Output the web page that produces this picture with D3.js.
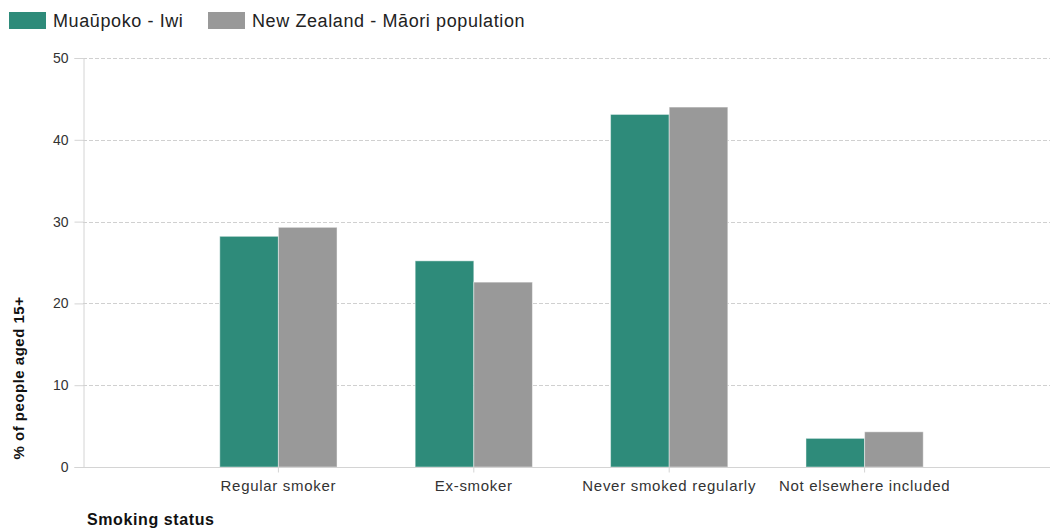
<!DOCTYPE html>
<html>
<head>
<meta charset="utf-8">
<script src="https://cdn.jsdelivr.net/npm/d3@7"></script>
<style>
  html, body { margin: 0; padding: 0; background: #fff; }
  svg { display: block; font-family: "Liberation Sans", Arial, sans-serif; }
</style>
</head>
<body>
<svg id="chart" width="1050" height="529"></svg>
<script>
// Smoking status, % of people aged 15+
const categories = ["Regular smoker", "Ex-smoker", "Never smoked regularly", "Not elsewhere included"];
const seriesNames = ["Muaūpoko - Iwi", "New Zealand - Māori population"];
const iwiValues = [28.2, 25.2, 43.1, 3.5];
const maoriValues = [29.3, 22.6, 44.0, 4.3];
const yTicks = [0, 10, 20, 30, 40, 50];
const colors = ["#2e8b7a", "#999999"];

const seriesValues = [iwiValues, maoriValues];

const svg = d3.select("#chart");
const W = 1050;
const plot = { left: 83, right: 1060, top: 58, bottom: 467 };

const x = d3.scaleBand()
  .domain(categories)
  .range([plot.left, plot.right])
  .paddingInner(0)
  .paddingOuter(0.5);

const xs = d3.scaleBand()
  .domain(seriesNames)
  .range([x.bandwidth() * 0.2, x.bandwidth() * 0.8]);

const y = d3.scaleLinear().domain([0, 50]).range([plot.bottom, plot.top]);

// horizontal grid
svg.append("g")
  .selectAll("line")
  .data(yTicks.filter(d => d > 0))
  .join("line")
  .attr("x1", plot.left).attr("x2", W)
  .attr("y1", d => Math.round(y(d)) + 0.5).attr("y2", d => Math.round(y(d)) + 0.5)
  .attr("stroke", "#d0d0d0")
  .attr("stroke-dasharray", "4,2");

// y axis
const yAxis = svg.append("g")
  .attr("transform", `translate(${plot.left + 0.5},0)`)
  .call(d3.axisLeft(y).tickValues(yTicks).tickSize(9).tickPadding(6).tickFormat(d3.format("d")));
yAxis.select(".domain").attr("stroke", "#d4d4d4");
yAxis.selectAll(".tick line").attr("stroke", "#d4d4d4");
yAxis.selectAll(".tick text")
  .attr("fill", "#333")
  .style("font-size", "14px")
  .style("font-family", "\"Liberation Sans\", Arial, sans-serif");

// bars
const groups = svg.append("g")
  .selectAll("g")
  .data(categories)
  .join("g")
  .attr("transform", d => `translate(${x(d)},0)`);

groups.selectAll("rect")
  .data((c, i) => seriesNames.map((s, k) => ({ s, k, v: seriesValues[k][i] })))
  .join("rect")
  .attr("x", d => xs(d.s))
  .attr("width", xs.bandwidth())
  .attr("y", d => y(d.v))
  .attr("height", d => y(0) - y(d.v))
  .attr("fill", d => colors[d.k])
  .attr("stroke", "#ffffff")
  .attr("stroke-opacity", 0.45)
  .attr("stroke-width", 1);

// x axis
const xAxis = svg.append("g")
  .attr("transform", `translate(0,${plot.bottom + 0.5})`)
  .call(d3.axisBottom(x).tickSize(5).tickPadding(8).tickSizeOuter(0));
xAxis.select(".domain").attr("stroke", "#d4d4d4").attr("d", `M${plot.left},0H${W}`);
xAxis.selectAll(".tick line").attr("stroke", "#d4d4d4");
xAxis.selectAll(".tick text")
  .attr("fill", "#333")
  .style("font-size", "15px")
  .style("letter-spacing", "0.7px")
  .style("font-family", "\"Liberation Sans\", Arial, sans-serif");

// axis titles
svg.append("text")
  .attr("transform", "translate(24,378) rotate(-90)")
  .attr("text-anchor", "middle")
  .style("font-size", "15px")
  .style("font-weight", "bold")
  .style("letter-spacing", "0.5px")
  .attr("fill", "#111")
  .text("% of people aged 15+");

svg.append("text")
  .attr("x", 87).attr("y", 525)
  .style("font-size", "16px")
  .style("font-weight", "bold")
  .style("letter-spacing", "0.6px")
  .attr("fill", "#111")
  .text("Smoking status");

// legend
const legendX = [9, 208];
const legend = svg.append("g")
  .selectAll("g")
  .data(seriesNames)
  .join("g")
  .attr("transform", (d, i) => `translate(${legendX[i]},12)`);
legend.append("rect")
  .attr("width", 37).attr("height", 17)
  .attr("fill", (d, i) => colors[i]);
legend.append("text")
  .attr("x", 44).attr("y", 15)
  .style("font-size", "18px")
  .style("letter-spacing", "0.6px")
  .attr("fill", "#222")
  .text(d => d);
</script>
</body>
</html>
